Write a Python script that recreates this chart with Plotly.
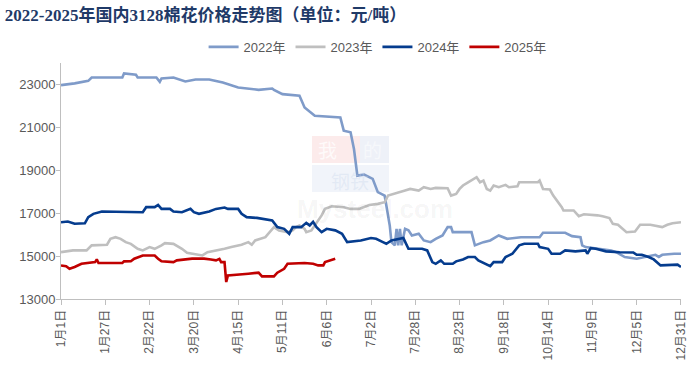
import plotly.graph_objects as go

# ---- data (x = day offset from Jan 1; y = price 元/吨) ----
tick_days = [0, 26, 52, 78, 104, 130, 156, 182, 208, 234, 260, 286, 312, 338, 364]
tick_labels = ["1月1日", "1月27日", "2月22日", "3月20日", "4月15日", "5月11日", "6月6日",
               "7月2日", "7月28日", "8月23日", "9月18日", "10月14日", "11月9日", "12月5日", "12月31日"]
y_ticks = [13000, 15000, 17000, 19000, 21000, 23000]
y_labels = ["13000", "15000", "17000", "19000", "21000", "23000"]

days_2022 = [0, 8, 16, 18, 36, 37, 44, 45, 56, 58, 59, 66, 73, 79, 87, 91, 95, 104, 116, 124, 125,
             130, 140, 143, 149, 164, 166, 170, 172, 174, 178, 183, 186, 190, 193, 194, 196, 197,
             198, 199, 200, 202, 204, 206, 210, 213, 217, 220, 224, 227, 229, 230, 241, 243, 248,
             252, 257, 262, 270, 281, 283, 296, 300, 305, 306, 308, 315, 323, 326, 331, 338, 343,
             349, 351, 353, 360, 364]
vals_2022 = [22970, 23050, 23170, 23325, 23325, 23510, 23450, 23325, 23325, 23125, 23280, 23325,
             23140, 23230, 23230, 23170, 23090, 22860, 22750, 22810, 22750, 22550, 22475, 21930,
             21540, 21465, 20845, 20770, 19990, 18750, 18800, 18600, 17980, 17820, 16430, 15650,
             15500, 16270, 15500, 16270, 15500, 16270, 16200, 15960, 16040, 15730, 15650, 15800,
             15960, 16350, 16350, 16115, 16115, 15500, 15650, 15730, 15960, 15805, 15880, 15880,
             16085, 16085, 15930, 15880, 15500, 15420, 15340, 15265, 15180, 14955, 14880, 14960,
             15060, 14960, 15060, 15110, 15110]

days_2023 = [0, 7, 15, 18, 27, 29, 32, 35, 38, 41, 45, 48, 52, 55, 59, 61, 66, 71, 74, 79, 83, 86,
             92, 96, 100, 106, 110, 112, 114, 120, 125, 128, 133, 136, 138, 140, 143, 144, 147,
             149, 153, 155, 159, 166, 170, 175, 181, 186, 190, 192, 195, 198, 202, 205, 210, 213,
             217, 220, 227, 229, 232, 234, 236, 239, 242, 244, 246, 248, 250, 252, 254, 257, 261,
             263, 268, 269, 280, 281, 283, 287, 289, 292, 294, 295, 301, 304, 307, 315, 318, 322,
             324, 327, 332, 337, 340, 346, 350, 353, 356, 359, 364]
vals_2023 = [15185, 15265, 15265, 15500, 15530, 15805, 15880, 15805, 15650, 15570, 15340, 15265,
             15420, 15340, 15500, 15605, 15570, 15340, 15155, 15100, 15030, 15185, 15265, 15340,
             15420, 15530, 15650, 15530, 15730, 15880, 16350, 16195, 16115, 16195, 16350, 16430,
             16270, 16115, 16195, 16430, 16895, 17200, 17325, 17280, 17200, 17200, 17385, 17435,
             17510, 17820, 17900, 17975, 18055, 18130, 18055, 18210, 18130, 18180, 18160, 17820,
             17900, 18130, 18290, 18440, 18600, 18675, 18440, 18520, 18130, 18050, 18290, 18210,
             18320, 18210, 18250, 18440, 18440, 18520, 18130, 18100, 17820, 17510, 17280, 17125,
             17125, 16860, 16950, 16900, 16860, 16770, 16505, 16460, 16115, 16150, 16460, 16460,
             16400, 16350, 16460, 16535, 16580]

days_2024 = [0, 4, 8, 14, 16, 19, 24, 36, 48, 50, 55, 57, 59, 64, 66, 71, 76, 78, 81, 87, 91, 96,
             98, 104, 106, 109, 115, 124, 127, 131, 134, 136, 141, 144, 146, 148, 150, 153, 156,
             161, 165, 168, 176, 182, 185, 189, 191, 194, 198, 201, 204, 212, 215, 218, 220, 223,
             225, 230, 232, 236, 239, 243, 245, 249, 252, 254, 259, 261, 265, 269, 272, 280, 281,
             286, 288, 293, 296, 302, 308, 309, 311, 314, 320, 328, 336, 338, 341, 345, 348, 352,
             360, 362, 364]
vals_2024 = [16580, 16610, 16505, 16530, 16815, 16970, 17080, 17045, 17045, 17280, 17280, 17385,
             17200, 17200, 17080, 17045, 17200, 17045, 16970, 17080, 17200, 17265, 17200, 17200,
             16970, 16815, 16780, 16660, 16350, 16270, 16040, 16350, 16350, 16550, 16430, 16600,
             16350, 16115, 16270, 16200, 16040, 15650, 15730, 15840, 15805, 15650, 15575, 15730,
             15805, 15840, 15340, 15340, 15265, 14720, 14640, 14800, 14640, 14640, 14755, 14845,
             14955, 14955, 14800, 14640, 14535, 14720, 14720, 14955, 15110, 15500, 15575, 15575,
             15420, 15340, 15110, 15110, 15265, 15220, 15265, 15110, 15370, 15340, 15220, 15180,
             15170, 15060, 15060, 14955, 14845, 14565, 14565, 14600, 14490]

days_2025 = [0, 3, 5, 8, 12, 20, 21, 22, 36, 37, 41, 43, 48, 55, 57, 59, 66, 68, 77, 84, 88, 91,
             93, 94, 96, 97, 98, 104, 110, 116, 118, 125, 127, 131, 133, 143, 148, 151, 154, 155,
             158, 161]
vals_2025 = [14565, 14530, 14410, 14490, 14640, 14720, 14845, 14680, 14680, 14755, 14760, 14880,
             15030, 15030, 14880, 14755, 14720, 14800, 14880, 14880, 14840, 14800, 14870, 14720,
             14720, 13790, 14100, 14130, 14180, 14230, 14055, 14055, 14225, 14410, 14640, 14680,
             14640, 14565, 14565, 14720, 14800, 14880]

series = [
    ("2022年", days_2022, vals_2022, "#7F9BC9"),
    ("2023年", days_2023, vals_2023, "#BFBFBF"),
    ("2024年", days_2024, vals_2024, "#053C8E"),
    ("2025年", days_2025, vals_2025, "#C00000"),
]

fig = go.Figure()
for name, xs, ys, color in series:
    fig.add_trace(go.Scatter(x=xs, y=ys, mode="lines", name=name,
                             line=dict(color=color, width=2.6)))

axis_font = dict(family="Liberation Sans, Arial, Noto Sans CJK SC", size=12, color="#595959")

# faint watermark (paper coords relative to plot area)
def px(xpix):
    return (xpix - 61) / 620.0

def py(ypix):
    return (299 - ypix) / 236.0

wm_shapes = [
    dict(type="rect", xref="paper", yref="paper", x0=px(312), x1=px(360), y0=py(163), y1=py(136),
         fillcolor="#FCEBEB", line=dict(width=0), layer="below"),
    dict(type="rect", xref="paper", yref="paper", x0=px(360), x1=px(389), y0=py(163), y1=py(136),
         fillcolor="#EEF1F8", line=dict(width=0), layer="below"),
    dict(type="rect", xref="paper", yref="paper", x0=px(312), x1=px(389), y0=py(192), y1=py(165),
         fillcolor="#F1F4FA", line=dict(width=0), layer="below"),
]
wm_font = "Noto Sans CJK SC"
wm_annots = [
    dict(text="我", x=px(327), y=py(149), xref="paper", yref="paper", showarrow=False,
         font=dict(family=wm_font, size=19, color="rgba(255,255,255,0.75)")),
    dict(text="的", x=px(372), y=py(149), xref="paper", yref="paper", showarrow=False,
         font=dict(family=wm_font, size=19, color="rgba(255,255,255,0.5)")),
    dict(text="钢铁", x=px(350), y=py(180), xref="paper", yref="paper", showarrow=False,
         font=dict(family=wm_font, size=19, color="rgba(200,212,235,0.35)")),
    dict(text="<b>Mysteel.com</b>", x=px(375), y=py(209), xref="paper", yref="paper", showarrow=False,
         font=dict(family="Liberation Sans, Arial", size=26, color="rgba(0,0,0,0.05)")),
]

fig.update_layout(
    width=687, height=388,
    margin=dict(l=61, r=6, t=63, b=89, autoexpand=False),
    paper_bgcolor="white", plot_bgcolor="white",
    title=dict(text="<b>2022-2025年国内3128棉花价格走势图（单位：元/吨）</b>",
               x=0.007, xanchor="left", y=0.961, yanchor="middle",
               font=dict(family="Liberation Serif, Noto Sans CJK SC", size=17, color="#1F3A68")),
    legend=dict(orientation="h", x=0.230, xanchor="left", y=1.068, yanchor="middle",
                font=dict(family="Liberation Sans, Arial, Noto Sans CJK SC", size=13, color="#595959"),
                bgcolor="rgba(0,0,0,0)", itemwidth=30, tracegroupgap=0),
    showlegend=True,
    shapes=wm_shapes,
    annotations=wm_annots,
)
fig.update_xaxes(range=[-0.01, 364.01], tickmode="array", tickvals=tick_days, ticktext=tick_labels,
                 tickangle=-90, showgrid=False, zeroline=False, automargin=False,
                 ticklabeloverflow="allow",
                 showline=True, linecolor="#BFBFBF", linewidth=1,
                 ticks="outside", ticklen=5, tickcolor="#BFBFBF",
                 tickfont=axis_font)
fig.update_yaxes(range=[13000, 24000], tickmode="array", tickvals=y_ticks, ticktext=y_labels,
                 showgrid=False, zeroline=False, automargin=False,
                 showline=True, linecolor="#BFBFBF", linewidth=1,
                 ticks="outside", ticklen=4, tickcolor="#BFBFBF", ticklabelstandoff=-2,
                 tickfont=dict(family="Liberation Sans, Arial", size=13, color="#595959"))

fig.write_html("out.html", config={"displayModeBar": False},
               post_script="document.body.style.margin='0';")
